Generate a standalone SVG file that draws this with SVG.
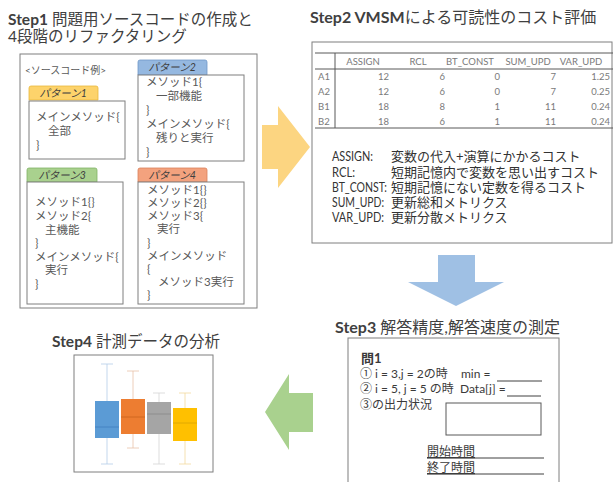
<svg xmlns="http://www.w3.org/2000/svg" width="614" height="482" viewBox="0 0 614 482">
<style>
text{font-family:Lato,"Noto Sans CJK JP",sans-serif;fill:#404040}
.t{font-size:15.5px}
.b{font-weight:bold}
.jp{font-family:"Noto Sans CJK JP",sans-serif}
.frame{fill:#fff;stroke:#7f7f7f;stroke-width:1}
.code{font-size:11.5px;fill:#595959}
.tab{font-size:10.5px;fill:#404040;font-style:italic;text-anchor:middle}
.tbl{font-size:9.5px;fill:#7a7a7a}
.r{text-anchor:end}
.m{text-anchor:middle}
.leg{font-size:13px;fill:#333}
.q{font-size:12px;fill:#3a3a3a}
.tl{stroke:#595959;stroke-width:1}
.ul{stroke:#404040;stroke-width:1}
</style>
<rect width="614" height="482" fill="#fff"/>

<g id="step1">
<text class="t" x="8" y="25"><tspan class="b">Step1</tspan> 問題用ソースコードの作成と</text>
<text class="t" x="8" y="42">4段階のリファクタリング</text>
<rect class="frame" x="20" y="54" width="237" height="254"/>
<text class="code" x="25" y="74" style="font-size:10px">&lt;ソースコード例&gt;</text>
</g>

<g id="pattern1">
<path d="M29,100 V88 Q29,86 31,86 H96 Q98,86 98,88 V100 Z" fill="#fdd36b" stroke="#e8b93c" stroke-width="0.8"/>
<text class="tab" x="63" y="97">パターン1</text>
<rect class="frame" x="29" y="101" width="96" height="58"/>
<text class="code" x="36" y="121">メインメソッド{</text>
<text class="code" x="48" y="135">全部</text>
<text class="code" x="36" y="149">}</text>
</g>

<g id="pattern2">
<path d="M138,75 V62 Q138,60 140,60 H205 Q207,60 207,62 V75 Z" fill="#95b8e0" stroke="#6f98c8" stroke-width="0.8"/>
<text class="tab" x="172" y="71">パターン2</text>
<rect class="frame" x="138" y="75" width="106" height="86"/>
<text class="code" x="146" y="86">メソッド1{</text>
<text class="code" x="156" y="100">一部機能</text>
<text class="code" x="146" y="114">}</text>
<text class="code" x="146" y="128">メインメソッド{</text>
<text class="code" x="156" y="142">残りと実行</text>
<text class="code" x="146" y="156">}</text>
</g>

<g id="pattern3">
<path d="M27,182 V170 Q27,168 29,168 H95 Q97,168 97,170 V182 Z" fill="#a9d18e" stroke="#82b366" stroke-width="0.8"/>
<text class="tab" x="62" y="179">パターン3</text>
<rect class="frame" x="27" y="182" width="96" height="122"/>
<text class="code" x="35" y="206">メソッド1{}</text>
<text class="code" x="35" y="220">メソッド2{</text>
<text class="code" x="45" y="234">主機能</text>
<text class="code" x="35" y="247">}</text>
<text class="code" x="35" y="261">メインメソッド{</text>
<text class="code" x="45" y="274">実行</text>
<text class="code" x="35" y="288">}</text>
</g>

<g id="pattern4">
<path d="M138,182 V170 Q138,168 140,168 H205 Q207,168 207,170 V182 Z" fill="#f3a27e" stroke="#d9805a" stroke-width="0.8"/>
<text class="tab" x="172" y="179">パターン4</text>
<rect class="frame" x="138" y="182" width="106" height="122"/>
<text class="code" x="147" y="194">メソッド1{}</text>
<text class="code" x="147" y="207">メソッド2{}</text>
<text class="code" x="147" y="220">メソッド3{</text>
<text class="code" x="157" y="233">実行</text>
<text class="code" x="147" y="247">}</text>
<text class="code" x="147" y="260">メインメソッド</text>
<text class="code" x="147" y="273">{</text>
<text class="code" x="158" y="286">メソッド3実行</text>
<text class="code" x="147" y="299">}</text>
</g>

<g id="step2">
<text x="310" y="23" style="font-size:16px"><tspan class="b">Step2 VMSM</tspan>による可読性のコスト評価</text>
<rect class="frame" x="312" y="42" width="300" height="201"/>
<line class="tl" x1="315" y1="53" x2="613" y2="53"/>
<line class="tl" x1="315" y1="69" x2="613" y2="69" stroke-width="0.6"/>
<line class="tl" x1="315" y1="128" x2="613" y2="128"/>
<line class="tl" x1="335" y1="53" x2="335" y2="128"/>
<text class="tbl m" x="363" y="65">ASSIGN</text>
<text class="tbl m" x="418" y="65">RCL</text>
<text class="tbl m" x="470" y="65">BT_CONST</text>
<text class="tbl m" x="528" y="65">SUM_UPD</text>
<text class="tbl m" x="581" y="65">VAR_UPD</text>
<text class="tbl" x="318" y="80">A1</text>
<text class="tbl" x="318" y="95">A2</text>
<text class="tbl" x="318" y="110">B1</text>
<text class="tbl" x="318" y="125">B2</text>
<text class="tbl r" x="389" y="80">12</text>
<text class="tbl r" x="389" y="95">12</text>
<text class="tbl r" x="389" y="110">18</text>
<text class="tbl r" x="389" y="125">18</text>
<text class="tbl r" x="445" y="80">6</text>
<text class="tbl r" x="445" y="95">6</text>
<text class="tbl r" x="445" y="110">8</text>
<text class="tbl r" x="445" y="125">6</text>
<text class="tbl r" x="500" y="80">0</text>
<text class="tbl r" x="500" y="95">0</text>
<text class="tbl r" x="500" y="110">1</text>
<text class="tbl r" x="500" y="125">1</text>
<text class="tbl r" x="556" y="80">7</text>
<text class="tbl r" x="556" y="95">7</text>
<text class="tbl r" x="556" y="110">11</text>
<text class="tbl r" x="556" y="125">11</text>
<text class="tbl r" x="610" y="80">1.25</text>
<text class="tbl r" x="610" y="95">0.25</text>
<text class="tbl r" x="610" y="110">0.24</text>
<text class="tbl r" x="610" y="125">0.24</text>
<text class="leg" x="332" y="161" textLength="41" lengthAdjust="spacingAndGlyphs">ASSIGN:</text>
<text class="leg" x="332" y="177" textLength="23" lengthAdjust="spacingAndGlyphs">RCL:</text>
<text class="leg" x="332" y="192" textLength="55" lengthAdjust="spacingAndGlyphs">BT_CONST:</text>
<text class="leg" x="332" y="207" textLength="52" lengthAdjust="spacingAndGlyphs">SUM_UPD:</text>
<text class="leg" x="332" y="222" textLength="52" lengthAdjust="spacingAndGlyphs">VAR_UPD:</text>
<text class="leg" x="391" y="161">変数の代入+演算にかかるコスト</text>
<text class="leg" x="391" y="177">短期記憶内で変数を思い出すコスト</text>
<text class="leg" x="391" y="192">短期記憶にない定数を得るコスト</text>
<text class="leg" x="391" y="207">更新総和メトリクス</text>
<text class="leg" x="391" y="222">更新分散メトリクス</text>
</g>

<g id="step3">
<text x="335" y="333" style="font-size:16px"><tspan class="b">Step3</tspan> 解答精度,解答速度の測定</text>
<rect class="frame" x="348" y="338" width="211" height="150"/>
<text class="q b" x="361" y="363" style="font-size:13px">問1</text>
<text class="q" x="360" y="378"><tspan class="jp">①</tspan> i = 3,j = 2の時</text>
<text class="q" x="461" y="378">min =</text>
<line class="ul" x1="497" y1="381" x2="542" y2="381"/>
<text class="q" x="360" y="393"><tspan class="jp">②</tspan> i = 5, j = 5 の時</text>
<text class="q" x="460" y="393">Data[j] =</text>
<line class="ul" x1="507" y1="396" x2="541" y2="396"/>
<text class="q" x="360" y="409"><tspan class="jp">③</tspan>の出力状況</text>
<rect x="446" y="403" width="95" height="32" fill="#fff" stroke="#595959" stroke-width="1"/>
<text class="q" x="427" y="456" text-decoration="underline">開始時間</text>
<line class="ul" x1="427" y1="458" x2="544" y2="458"/>
<text class="q" x="427" y="472" text-decoration="underline">終了時間</text>
<line class="ul" x1="427" y1="474" x2="544" y2="474"/>
</g>

<g id="step4">
<text x="52" y="347" style="font-size:15.5px"><tspan class="b">Step4</tspan> 計測データの分析</text>
<rect class="frame" x="74" y="355" width="139" height="117" stroke="#595959"/>
<g stroke-width="0.8">
<line x1="107" y1="364" x2="107" y2="464" stroke="#b4cde8"/>
<line x1="101" y1="364" x2="113" y2="364" stroke="#b4cde8"/>
<line x1="101" y1="464" x2="113" y2="464" stroke="#b4cde8"/>
<line x1="133" y1="371" x2="133" y2="448" stroke="#e8c2a8"/>
<line x1="127" y1="371" x2="139" y2="371" stroke="#e8c2a8"/>
<line x1="127" y1="448" x2="139" y2="448" stroke="#e8c2a8"/>
<line x1="159" y1="393" x2="159" y2="464" stroke="#d4d4d4"/>
<line x1="153" y1="393" x2="165" y2="393" stroke="#d4d4d4"/>
<line x1="153" y1="464" x2="165" y2="464" stroke="#d4d4d4"/>
<line x1="185" y1="393" x2="185" y2="464" stroke="#f2d9a0"/>
<line x1="179" y1="393" x2="191" y2="393" stroke="#f2d9a0"/>
<line x1="179" y1="464" x2="191" y2="464" stroke="#f2d9a0"/>
</g>
<rect x="95" y="401" width="24" height="37" fill="#5b9bd5"/>
<line x1="95" y1="427" x2="119" y2="427" stroke="#3f7fbf" stroke-width="0.8"/>
<rect x="121" y="399" width="24" height="35" fill="#ed7d31"/>
<line x1="121" y1="417" x2="145" y2="417" stroke="#c9621c" stroke-width="0.8"/>
<rect x="147" y="402" width="24" height="32" fill="#a5a5a5"/>
<line x1="147" y1="414" x2="171" y2="414" stroke="#888" stroke-width="0.8"/>
<rect x="173" y="408" width="24" height="33" fill="#ffc000"/>
<line x1="173" y1="423" x2="197" y2="423" stroke="#d9a300" stroke-width="0.8"/>
</g>

<g id="connectors">
<polygon points="262,125 278,125 278,106 310,147 278,188 278,169 262,169" fill="#fcd581"/>
<polygon points="438,255 475,255 475,282 504,282 456,306 408,282 438,282" fill="#9fc0e4"/>
<polygon points="313,393 289,393 289,374 265,412 289,450 289,432 313,432" fill="#a9d18e"/>
</g>
</svg>
